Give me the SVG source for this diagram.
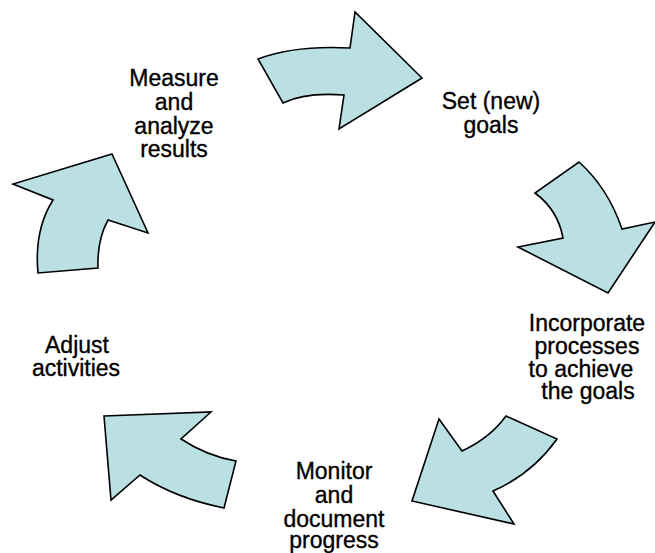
<svg xmlns="http://www.w3.org/2000/svg" width="655" height="553" viewBox="0 0 655 553">
<style>
.arrow{fill:#BAE0E4;stroke:#000;stroke-width:1.6;stroke-linejoin:miter}
.lbl{font-family:"Liberation Sans",Arial,sans-serif;font-size:23px;fill:#000;stroke:#000;stroke-width:0.35;text-anchor:middle}
</style>
<rect width="655" height="553" fill="#fff"/>
<g id="connectors">
<path id="arrow-top" class="arrow" d="M258,59 Q295,45 350,48 L355,12 L422,78 L339,129 L344,95 Q305,92 283,103 Z"/>
<path id="arrow-right" class="arrow" d="M579,162 Q608,188 622,229 L655,222 L608,293 L518,247 L563,238 Q558,210 535,193 Z"/>
<path id="arrow-bottom-right" class="arrow" d="M506,416 L557,439 Q532,474 493,491 L514,524 L412,501 L439,419 L462,451 Q490,438 506,416 Z"/>
<path id="arrow-bottom-left" class="arrow" d="M104,416 L211,412 L181,439 Q207,456 236,461 L224,508 Q175,498 140,475 L111,500 Z"/>
<path id="arrow-left" class="arrow" d="M112,154 L148,233 L108,220 Q97,240 98,268 L38,273 Q34,230 53,200 L13,184 Z"/>
</g>
<g id="node-measure">
<text class="lbl" x="174" y="86">Measure</text>
<text class="lbl" x="174" y="110">and</text>
<text class="lbl" x="174" y="134">analyze</text>
<text class="lbl" x="174" y="157">results</text>
</g>
<g id="node-set">
<text class="lbl" x="491" y="109">Set (new)</text>
<text class="lbl" x="491" y="133">goals</text>
</g>
<g id="node-incorporate">
<text class="lbl" x="587" y="331">Incorporate</text>
<text class="lbl" x="587" y="354">processes</text>
<text class="lbl" x="581" y="377">to achieve</text>
<text class="lbl" x="588" y="399">the goals</text>
</g>
<g id="node-monitor">
<text class="lbl" x="334" y="479">Monitor</text>
<text class="lbl" x="334" y="503">and</text>
<text class="lbl" x="334" y="527">document</text>
<text class="lbl" x="334" y="548">progress</text>
</g>
<g id="node-adjust">
<text class="lbl" x="77" y="353">Adjust</text>
<text class="lbl" x="76" y="376">activities</text>
</g>
</svg>
